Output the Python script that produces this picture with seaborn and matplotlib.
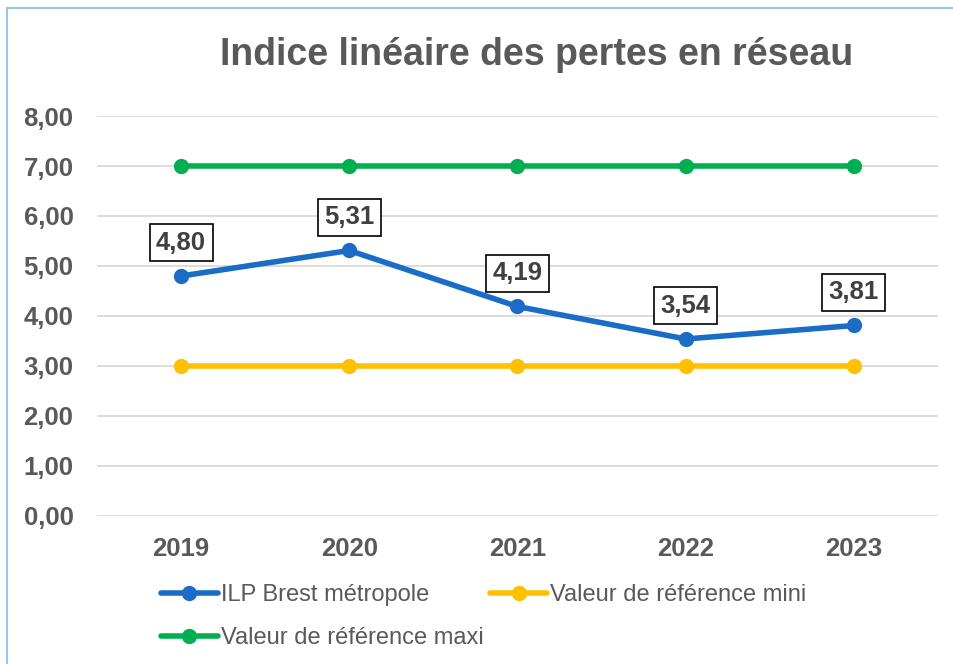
import pandas as pd
import matplotlib
matplotlib.use("Agg")
import matplotlib.pyplot as plt
import seaborn as sns
from matplotlib.patches import Rectangle

# --- Data ---
years = ["2019", "2020", "2021", "2022", "2023"]
ilp_brest = [4.80, 5.31, 4.19, 3.54, 3.81]
ref_mini = [3.00, 3.00, 3.00, 3.00, 3.00]
ref_maxi = [7.00, 7.00, 7.00, 7.00, 7.00]
series_names = ["ILP Brest métropole", "Valeur de référence mini", "Valeur de référence maxi"]
colors = ["#1a6cc6", "#ffc000", "#00b050"]
y_ticks = [0, 1, 2, 3, 4, 5, 6, 7, 8]

df = pd.DataFrame({"Année": years * 3,
                   "Valeur": ilp_brest + ref_mini + ref_maxi,
                   "Série": [series_names[0]] * 5 + [series_names[1]] * 5 + [series_names[2]] * 5})

sns.set_style("white")
plt.rcParams["font.family"] = ["Liberation Sans", "DejaVu Sans"]
TXT = "#595959"

fig = plt.figure(figsize=(9.54, 6.64), dpi=100)
ax = fig.add_axes([0.1017, 0.2229, 0.8815, 0.6024])

# light blue frame of the chart area
fig.patches.append(Rectangle((7 / 954, -0.05), 1.2, 1 - 8 / 664 + 0.05, transform=fig.transFigure,
                             fill=False, edgecolor="#9dc3e6", linewidth=1.5, clip_on=False))

sns.lineplot(data=df, x="Année", y="Valeur", hue="Série", palette=colors, marker="o",
             markersize=11, markeredgewidth=0, linewidth=4, ax=ax, sort=False)

ax.set_xlim(-0.5, 4.5)
ax.set_ylim(0, 8)
ax.set_yticks(y_ticks)
ax.set_yticklabels([f"{v:.2f}".replace(".", ",") for v in y_ticks])
ax.grid(axis="y", color="#d9d9d9", linewidth=1.3)
ax.set_axisbelow(True)
for s in ax.spines.values():
    s.set_visible(False)
ax.tick_params(axis="both", length=0, labelsize=18.5, labelcolor=TXT)
ax.tick_params(axis="x", pad=15)
ax.tick_params(axis="y", pad=17)
for lbl in ax.get_xticklabels() + ax.get_yticklabels():
    lbl.set_fontweight("bold")
ax.set_xlabel("")
ax.set_ylabel("")

# data labels
for i, v in enumerate(ilp_brest):
    ax.annotate(f"{v:.2f}".replace(".", ","), (i, v), xytext=(0, 24), textcoords="offset points",
                ha="center", va="center", fontsize=18.5, fontweight="bold", color="#404040",
                bbox=dict(boxstyle="square,pad=0.25", facecolor="white", edgecolor="black", linewidth=1.2))

fig.text(0.563, 0.917, "Indice linéaire des pertes en réseau", ha="center", va="center",
         fontsize=27, fontweight="bold", color=TXT)

# legend laid out row by row (Excel style): row 1 = ILP + mini, row 2 = maxi
handles, labels = ax.get_legend_handles_labels()
leg_kw = dict(loc="upper left", bbox_transform=fig.transFigure, frameon=False, fontsize=17,
              handlelength=2.4, handletextpad=0.13, columnspacing=2.6, borderpad=0, borderaxespad=0)
leg1 = ax.legend(handles[:2], labels[:2], ncol=2, bbox_to_anchor=(161 / 954, 0.120), **leg_kw)
for t in leg1.get_texts():
    t.set_color(TXT)
ax.add_artist(leg1)
leg2 = ax.legend(handles[2:], labels[2:], ncol=1, bbox_to_anchor=(161 / 954, 0.056), **leg_kw)
for t in leg2.get_texts():
    t.set_color(TXT)

fig.savefig("out.png", dpi=100)
